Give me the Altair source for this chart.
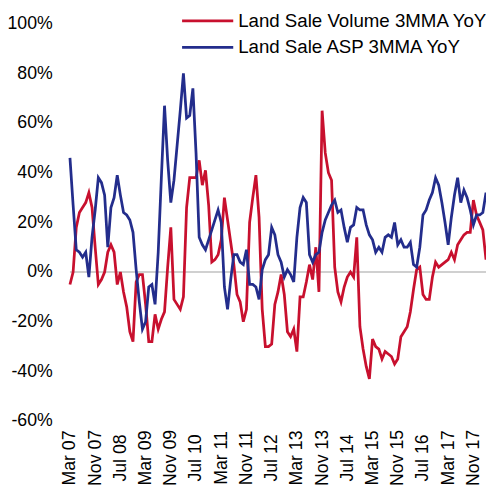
import altair as alt
import pandas as pd

# Month categories: Mar 2007 .. Mar 2018 (monthly)
month_labels = list(pd.date_range("2007-03-01", periods=133, freq="MS").strftime("%b %y"))
tick_labels = month_labels[::8]

series_names = ["Land Sale Volume 3MMA YoY", "Land Sale ASP 3MMA YoY"]
series_colors = ["#C8102E", "#232D8C"]

volume_yoy = [
    -5, 0, 18, 24, 26, 28, 32, 26, 10, -5,
    -3, 0, 8, 11, 8, -5, 0, -8, -14, -24,
    -28, -4, -1, -1, -13, -28, -28, -17, -23, -19,
    -16, 2, 18, -11, -13, -15, -10, 26, 38, 38,
    38, 45, 35, 41, 27, 4, 5, 7, 13, 30,
    21, 12, 3, -9, -12, -20, -15, 20, 30, 39,
    22, -15, -30, -30, -29, -13, -8, -1, -9, -24,
    -26, -23, -32, -10, -10, -4, 3, -3, 10, -8,
    65, 48, 40, 37, 2, -8, -12, -6, -2, 0,
    -2, 14, -22, -31, -38, -43, -27, -30, -31, -35,
    -32, -33, -34, -37, -35, -26, -24, -22, -16, -7,
    1, 2, -9, -11, -11, -2, 4, 2, 3, 4,
    5, 8, 5, 11, 13, 15, 16, 16, 29, 23,
    20, 17, 5,
]

asp_yoy = [
    46, 27, 9, 8, 6, 8, -2, 14, 25, 38,
    36, 31, 10, 26, 30, 39, 31, 24, 23, 21,
    16, 1, -12, -23, -20, -6, -5, -13, 8, 38,
    67, 45, 28, 37, 51, 65, 80, 62, 63, 74,
    48, 14, 11, 9, 13, 17, 21, 25, 20, -6,
    -15, -3, 7, 7, 4, 3, 9, -5, -5, -6,
    -11, 1, 5, 7, 18, 15, 7, 4, -2, 1,
    -1, -4, 14, 26, 30, 28, 7, 4, 7, 8,
    16, 21, 24, 27, 29, 24, 25, 18, 12, 18,
    19, 26, 25, 25, 19, 15, 13, 8, 10, 8,
    14, 15, 14, 20, 11, 13, 10, 10, 12, 3,
    2, 10, 23, 25, 29, 32, 38, 35, 28, 20,
    11, 22, 31, 38, 28, 33, 30, 25, 19, 23,
    23, 24, 32,
]

y_ticks = [-0.6, -0.4, -0.2, 0.0, 0.2, 0.4, 0.6, 0.8, 1.0]

rows = []
for m, v in zip(month_labels, volume_yoy):
    rows.append({"month": m, "value": v / 100.0, "series": series_names[0]})
for m, v in zip(month_labels, asp_yoy):
    rows.append({"month": m, "value": v / 100.0, "series": series_names[1]})
df = pd.DataFrame(rows)

FONT = "Liberation Sans"
color_scale = alt.Scale(domain=series_names, range=series_colors)

x_enc = alt.X(
    "month:O",
    sort=month_labels,
    scale=alt.Scale(type="point", padding=0),
    axis=alt.Axis(
        values=tick_labels,
        labelAngle=-90,
        labelAlign="center",
        labelBaseline="middle",
        labelPadding=37,
        ticks=False,
        domain=False,
        grid=False,
        title=None,
        labelFont=FONT,
        labelFontSize=18,
        labelColor="#000000",
        labelOverlap=False,
    ),
)
y_enc = alt.Y(
    "value:Q",
    scale=alt.Scale(domain=[-0.6, 1.0], nice=False, zero=False),
    axis=alt.Axis(
        values=y_ticks,
        labelExpr="replace(format(datum.value, '.0%'), '\u2212', '-')",
        ticks=False,
        domain=False,
        grid=False,
        title=None,
        labelPadding=18,
        labelFont=FONT,
        labelFontSize=18,
        labelColor="#000000",
    ),
)

zero_rule = alt.Chart(pd.DataFrame({"y": [0.0]})).mark_rule(
    color="#D0D0D0", strokeWidth=2
).encode(y=alt.Y("y:Q"))

lines = alt.Chart(df).mark_line(strokeWidth=2.8).encode(
    x=x_enc,
    y=y_enc,
    color=alt.Color("series:N", scale=color_scale, legend=None),
    detail="series:N",
)

legend_layers = []
for i, name in enumerate(series_names):
    ld = pd.DataFrame({"series": [name]})
    yy = -3 + 27 * i
    legend_layers.append(
        alt.Chart(ld).mark_rule(strokeWidth=2.8).encode(
            x=alt.value(114), x2=alt.value(166), y=alt.value(yy),
            color=alt.Color("series:N", scale=color_scale, legend=None),
        )
    )
    legend_layers.append(
        alt.Chart(ld).mark_text(
            align="left", baseline="middle", font=FONT, fontSize=19, color="#000000"
        ).encode(x=alt.value(171), y=alt.value(yy), text="series:N")
    )

chart = alt.layer(zero_rule, lines, *legend_layers).properties(
    width=423,
    height=404,
    autosize=alt.AutoSizeParams(type="none"),
    padding={"left": 63, "top": 12, "right": 0, "bottom": 62},
).configure_view(stroke="transparent")

chart.save("out.html", embed_options={"renderer": "svg", "actions": False})
